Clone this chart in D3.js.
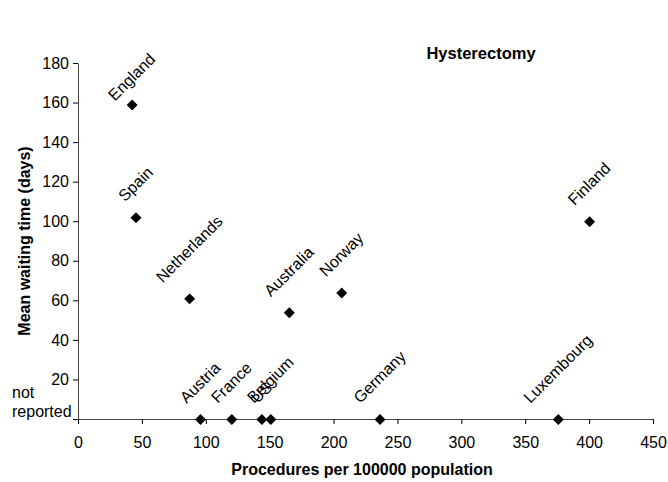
<!DOCTYPE html>
<html>
<head>
<meta charset="utf-8">
<script src="https://cdn.jsdelivr.net/npm/d3@7"></script>
<style>
  body { margin: 0; background: #fff; }
  svg { display: block; font-family: "Liberation Sans", Arial, sans-serif; }
  .axis line { stroke: #000; }
  .axis path { stroke: #444; }
  .axis text { font-size: 16px; fill: #000; }
</style>
</head>
<body>
<svg id="chart" width="668" height="482"></svg>
<script>
// chart data
const countries = ["England", "Spain", "Netherlands", "Australia", "Norway", "Finland",
                   "Austria", "France", "US", "Belgium", "Germany", "Luxembourg"];
const procedures = [42, 45, 87, 165, 206, 400, 95.5, 120, 143.5, 150.5, 236, 375.5];
const waitDays = [159, 102, 61, 54, 64, 100, 0, 0, 0, 0, 0, 0]; // 0 = not reported

const xTicks = [0, 50, 100, 150, 200, 250, 300, 350, 400, 450];
const yTicks = [0, 20, 40, 60, 80, 100, 120, 140, 160, 180];
const yTickLabels = ["not reported", "20", "40", "60", "80", "100", "120", "140", "160", "180"];

const title = "Hysterectomy";
const xTitle = "Procedures per 100000 population";
const yTitle = "Mean waiting time (days)";

const points = countries.map((c, i) => ({ name: c, x: procedures[i], y: waitDays[i] }));

const svg = d3.select("#chart");
const x = d3.scaleLinear().domain([0, 450]).range([78, 653]);
const y = d3.scaleLinear().domain([0, 180]).range([419, 63]);

// x axis
svg.append("g")
    .attr("class", "axis")
    .attr("transform", `translate(0,${y(0)})`)
    .call(d3.axisBottom(x).tickValues(xTicks).tickSize(5).tickSizeOuter(0).tickPadding(13))
    .call(g => g.selectAll("text").attr("font-family", null));

// y axis
svg.append("g")
    .attr("class", "axis")
    .attr("transform", `translate(${x(0)},0)`)
    .call(d3.axisLeft(y).tickValues(yTicks).tickSize(5).tickSizeOuter(0).tickPadding(4)
        .tickFormat((d, i) => d === 0 ? "" : yTickLabels[i]));

// the zero tick reads "not reported", on two left-aligned lines
svg.append("text")
    .attr("font-size", 16)
    .selectAll("tspan")
    .data(yTickLabels[0].split(" "))
    .join("tspan")
    .attr("x", 12)
    .attr("y", (d, i, arr) => y(0) - 2 - (arr.length - 1 - i) * 19)
    .text(d => d);

// markers
svg.append("g")
    .selectAll("path")
    .data(points)
    .join("path")
    .attr("d", d3.symbol(d3.symbolSquare, 60))
    .attr("transform", d => `translate(${x(d.x) + 0.5},${y(d.y) + 0.5}) rotate(45)`)
    .attr("fill", "#000");

// rotated labels above each marker
const labelShift = { England: 12 };
const labels = svg.append("g")
    .selectAll("g")
    .data(points)
    .join("g");

labels.append("text")
    .attr("font-size", 16)
    .attr("text-anchor", "middle")
    .attr("dy", "0.35em")
    .text(d => d.name);

labels.attr("transform", function (d) {
    const len = this.querySelector("text").getComputedTextLength();
    const off = 12.5 + (len + 18) / (2 * Math.SQRT2) - (labelShift[d.name] || 0);
    return `translate(${x(d.x)},${y(d.y) - off}) rotate(-45)`;
});

// titles
svg.append("text")
    .attr("x", 481).attr("y", 59)
    .attr("text-anchor", "middle")
    .attr("font-size", 16.5).attr("font-weight", "bold")
    .text(title);

svg.append("text")
    .attr("x", 362).attr("y", 475)
    .attr("text-anchor", "middle")
    .attr("font-size", 16).attr("font-weight", "bold")
    .text(xTitle);

svg.append("text")
    .attr("transform", `translate(30,${(y(0) + y(180)) / 2}) rotate(-90)`)
    .attr("text-anchor", "middle")
    .attr("font-size", 16).attr("font-weight", "bold")
    .text(yTitle);
</script>
</body>
</html>
